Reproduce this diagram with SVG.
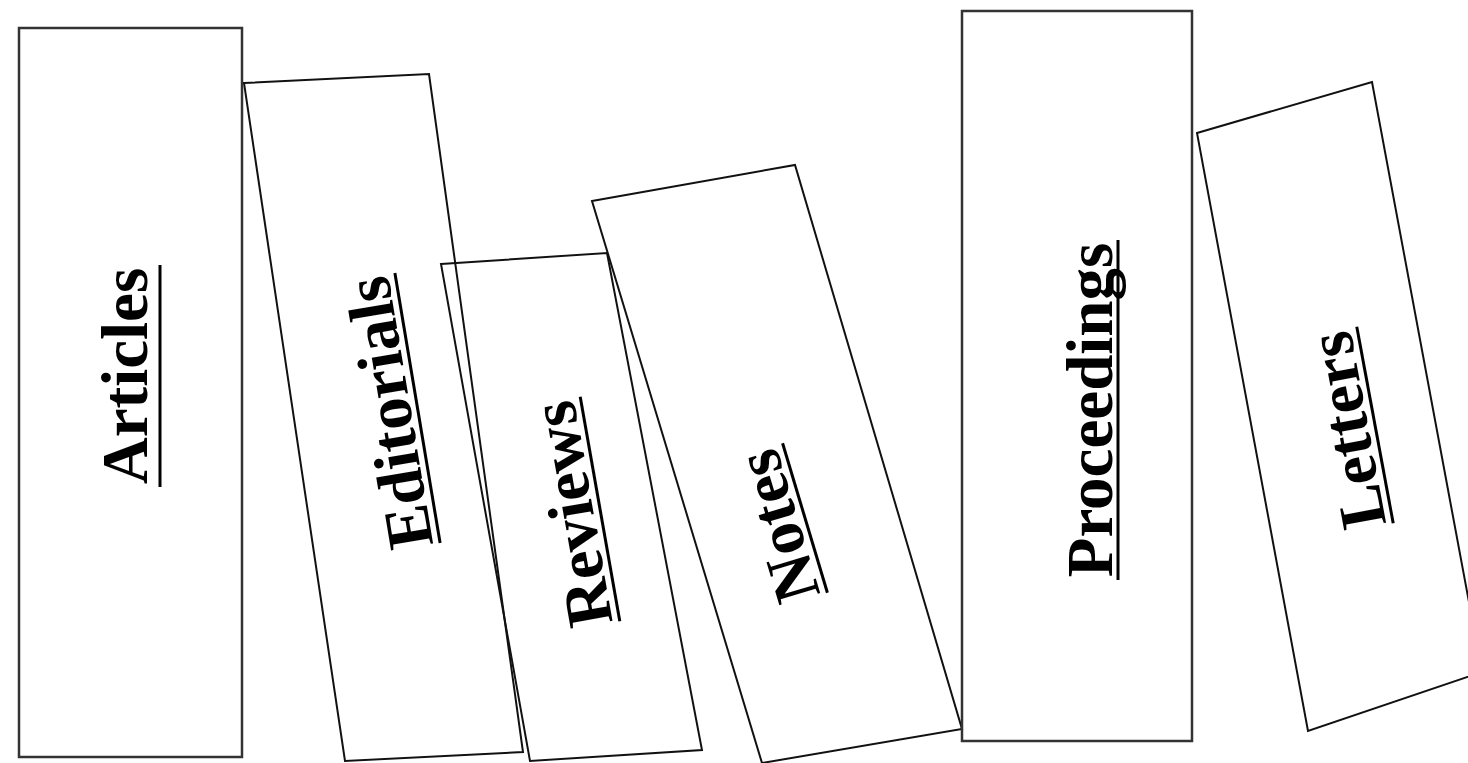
<svg xmlns="http://www.w3.org/2000/svg" width="1468" height="763" viewBox="0 0 1468 763">
<style>
.box{fill:none;stroke:#111;stroke-width:2}
.boxr{fill:none;stroke:#333;stroke-width:2.5}
.lbl{font-family:"Liberation Serif","Times New Roman",serif;font-weight:bold;font-size:65px;fill:#000;text-anchor:middle}
.ul{stroke:#000;stroke-width:3}
</style>
<rect width="1468" height="763" fill="#fff"/>
<g id="articles">
<rect class="boxr" x="19" y="28" width="223" height="729"/>
<g transform="translate(160,376) rotate(-90)">
<text class="lbl" x="0" y="-13">Articles</text>
<line class="ul" x1="-111" y1="0" x2="111" y2="0"/>
</g>
</g>
<g id="editorials">
<polygon class="box" points="244,83 429,74 523,752 345,761"/>
<g transform="translate(417.5,408) rotate(-99.5)">
<text class="lbl" x="0" y="-7">Editorials</text>
<line class="ul" x1="-137" y1="0" x2="137" y2="0"/>
</g>
</g>
<g id="reviews">
<polygon class="box" points="441,264 607,253 702,750 530,761"/>
<g transform="translate(600,509) rotate(-100)">
<text class="lbl" x="0" y="-7">Reviews</text>
<line class="ul" x1="-114" y1="0" x2="114" y2="0"/>
</g>
</g>
<g id="notes">
<polygon class="box" points="592,201 795,165 962,729 762,763"/>
<g transform="translate(805,518) rotate(-106.7)">
<text class="lbl" x="0" y="-7">Notes</text>
<line class="ul" x1="-78" y1="0" x2="78" y2="0"/>
</g>
</g>
<g id="proceedings">
<rect class="boxr" x="962" y="11" width="230" height="730"/>
<g transform="translate(1118,410) rotate(-90)">
<text class="lbl" x="0" y="-6">Proceedings</text>
<line class="ul" x1="-170" y1="0" x2="170" y2="0"/>
</g>
</g>
<g id="letters">
<polygon class="box" points="1197,133 1372,82 1482,672 1308,731"/>
<g transform="translate(1375,425) rotate(-100.5)">
<text class="lbl" x="0" y="-7">Letters</text>
<line class="ul" x1="-100" y1="0" x2="100" y2="0"/>
</g>
</g>
<g id="connectors"/>
</svg>
